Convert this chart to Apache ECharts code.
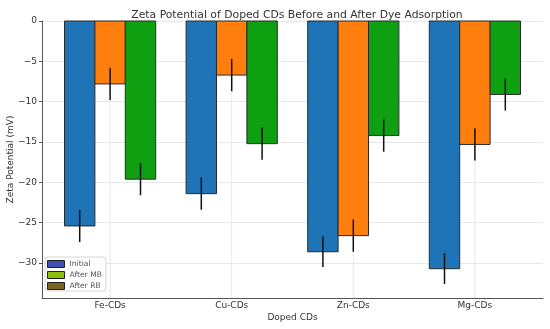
<!DOCTYPE html>
<html><head><meta charset="utf-8">
<script src="https://cdn.jsdelivr.net/npm/echarts@6/dist/echarts.min.js"></script>
<style>html,body{margin:0;padding:0;background:#fff}#c{width:550px;height:329px}</style>
</head><body><div id="c"></div>
<script>
var categories = ['Fe-CDs', 'Cu-CDs', 'Zn-CDs', 'Mg-CDs'];
var seriesNames = ['Initial', 'After MB', 'After RB'];
var initialVals = [-25.4, -21.4, -28.6, -30.7];
var afterMBVals = [-7.8, -6.7, -26.6, -15.3];
var afterRBVals = [-19.6, -15.2, -14.2, -9.1];
var initialErr = [2.0, 2.0, 1.9, 1.9];
var afterMBErr = [2.0, 2.0, 2.0, 2.0];
var afterRBErr = [2.0, 2.0, 2.0, 2.0];
var yTicks = [0, -5, -10, -15, -20, -25, -30];

var colors = ['#1f74b8', '#ff7f0e', '#0ea010'];
var legendColors = ['#4050b4', '#8cbf0a', '#7a6222'];
var allVals = [initialVals, afterMBVals, afterRBVals];
var allErr = [initialErr, afterMBErr, afterRBErr];
var offsets = [-0.25, 0, 0.25];
var halfW = 0.125;
var yMin = -34.33;

var chart = echarts.init(document.getElementById('c'), null, {renderer: 'canvas'});
var series = [];
// vertical grid lines at category positions
series.push({
  type: 'custom', z: 0, silent: true,
  renderItem: function (params, api) {
    var p1 = api.coord([api.value(0), 0]);
    var p2 = api.coord([api.value(0), yMin]);
    return {type: 'line', shape: {x1: p1[0], y1: p1[1], x2: p2[0], y2: p2[1]}, style: {stroke: '#e2e2e2', lineWidth: 0.8}};
  },
  data: categories.map(function (c, i) { return [i]; })
});
allVals.forEach(function (vals, s) {
  series.push({
    name: seriesNames[s], type: 'custom', z: 2,
    itemStyle: {color: colors[s]},
    renderItem: function (params, api) {
      var x = api.value(0), v = api.value(1);
      var a = api.coord([x - halfW, 0]);
      var b = api.coord([x + halfW, v]);
      return {type: 'rect', shape: {x: a[0], y: a[1], width: b[0] - a[0], height: b[1] - a[1]},
        style: {fill: colors[s], stroke: '#2a2a2a', lineWidth: 1}};
    },
    data: vals.map(function (v, i) { return [i + offsets[s], v]; })
  });
});
// error bars
var errData = [];
allVals.forEach(function (vals, s) {
  vals.forEach(function (v, i) { errData.push([i + offsets[s], v - allErr[s][i], v + allErr[s][i]]); });
});
series.push({
  type: 'custom', z: 5, silent: true,
  renderItem: function (params, api) {
    var p1 = api.coord([api.value(0), api.value(1)]);
    var p2 = api.coord([api.value(0), api.value(2)]);
    return {type: 'line', shape: {x1: p1[0], y1: p1[1], x2: p2[0], y2: p2[1]}, style: {stroke: '#111', lineWidth: 1.5}};
  },
  data: errData
});

chart.setOption({
  animation: false,
  title: {text: 'Zeta Potential of Doped CDs Before and After Dye Adsorption', left: 292, top: 5, textAlign: 'center',
    textStyle: {fontFamily: 'DejaVu Sans', fontSize: 10.8, fontWeight: 'normal', color: '#333'}},
  grid: {left: 42, right: 7, top: 21, bottom: 31, containLabel: false, outerBoundsMode: 'none'},
  legend: {
    orient: 'vertical', left: 45, top: 257, itemWidth: 17, itemHeight: 7, itemGap: 3,
    padding: [3, 4, 1, 2], borderColor: '#ccc', borderWidth: 0.8, borderRadius: 3, backgroundColor: 'rgba(255,255,255,0.8)',
    textStyle: {fontFamily: 'DejaVu Sans', fontSize: 7.6, color: '#555'},
    data: seriesNames.map(function (n, s) { return {name: n, icon: 'rect', itemStyle: {color: legendColors[s], borderColor: '#222', borderWidth: 1}}; })
  },
  xAxis: {
    type: 'value', min: -0.56, max: 3.56, name: 'Doped CDs', nameLocation: 'middle', nameGap: 15, nameMoveOverlap: false,
    nameTextStyle: {fontFamily: 'DejaVu Sans', fontSize: 9, color: '#333'},
    axisLine: {show: true, onZero: false, lineStyle: {color: '#555', width: 1}},
    axisTick: {show: false, customValues: [0, 1, 2, 3]},
    axisLabel: {customValues: [0, 1, 2, 3], formatter: function (v) { return categories[Math.round(v)]; },
      fontFamily: 'DejaVu Sans', fontSize: 9, color: '#333', margin: 3},
    splitLine: {show: false}
  },
  yAxis: {
    type: 'value', min: yMin, max: 0, name: 'Zeta Potential (mV)', nameLocation: 'middle', nameGap: 31, nameMoveOverlap: false,
    nameTextStyle: {fontFamily: 'DejaVu Sans', fontSize: 9, color: '#333', verticalAlign: 'middle'},
    axisLine: {show: true, onZero: false, lineStyle: {color: '#555', width: 1}},
    axisTick: {show: true, customValues: yTicks, length: 3, lineStyle: {color: '#555'}},
    axisLabel: {customValues: yTicks, formatter: function (v) { return v === 0 ? '0' : '\u2212' + Math.abs(v); },
      fontFamily: 'DejaVu Sans', fontSize: 9, color: '#333', margin: 5},
    splitLine: {show: true, lineStyle: {color: '#e2e2e2', width: 0.8}}
  },
  series: series
});
</script></body></html>
